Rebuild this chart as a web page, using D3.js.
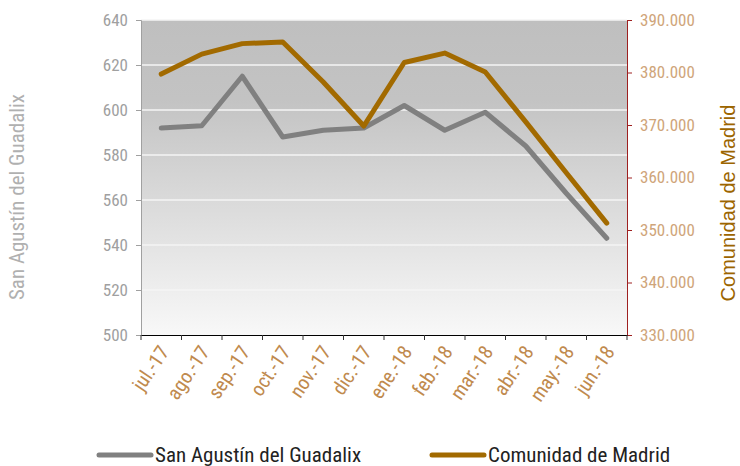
<!DOCTYPE html>
<html>
<head>
<meta charset="utf-8">
<script src="https://cdn.jsdelivr.net/npm/d3@7"></script>
<style>
  body { margin: 0; background: #fff; }
  svg { display: block; }
</style>
</head>
<body>
<div id="chart"></div>
<script>
const width = 740;
const height = 466;
const margin = { top: 20, right: 113, bottom: 131, left: 141 };

const months = ["jul.-17", "ago.-17", "sep.-17", "oct.-17", "nov.-17", "dic.-17",
  "ene.-18", "feb.-18", "mar.-18", "abr.-18", "may.-18", "jun.-18"];
const sanAgustin = [592, 593, 615, 588, 591, 592, 602, 591, 599, 584, 563, 543];
const madrid = [379700, 383500, 385500, 385800, 378200, 369800,
  381900, 383700, 380100, 370600, 360900, 351300];
const leftTicks = [500, 520, 540, 560, 580, 600, 620, 640];
const rightTicks = [330000, 340000, 350000, 360000, 370000, 380000, 390000];

const condensed = "'Liberation Sans Narrow', 'Roboto Condensed', Roboto, sans-serif";
const fmt = (d) => d3.format(",")(d).replace(/,/g, ".");

const svg = d3.select("#chart").append("svg")
  .attr("width", width)
  .attr("height", height);

const innerW = width - margin.left - margin.right;
const innerH = height - margin.top - margin.bottom;

const x = d3.scaleBand().domain(months).range([margin.left, margin.left + innerW]);
const yL = d3.scaleLinear().domain([500, 640]).range([margin.top + innerH, margin.top]);
const yR = d3.scaleLinear().domain([330000, 390000]).range([margin.top + innerH, margin.top]);

// background gradient
const grad = svg.append("defs").append("linearGradient")
  .attr("id", "bg").attr("x1", 0).attr("y1", 0).attr("x2", 0).attr("y2", 1);
grad.append("stop").attr("offset", "0%").attr("stop-color", "#bfbfbf");
grad.append("stop").attr("offset", "25%").attr("stop-color", "#c3c3c3");
grad.append("stop").attr("offset", "100%").attr("stop-color", "#f8f8f8");

svg.append("rect")
  .attr("x", margin.left).attr("y", margin.top)
  .attr("width", innerW).attr("height", innerH)
  .attr("fill", "url(#bg)");

// gridlines
svg.append("g").selectAll("line")
  .data(leftTicks.filter((d) => d > 500))
  .enter().append("line")
  .attr("x1", margin.left).attr("x2", margin.left + innerW)
  .attr("y1", (d) => yL(d)).attr("y2", (d) => yL(d))
  .attr("stroke", "#f4f4f4").attr("stroke-width", 1.5);

// left axis
const gL = svg.append("g")
  .attr("transform", `translate(${margin.left},0)`)
  .call(d3.axisLeft(yL).tickValues(leftTicks).tickSize(5).tickPadding(8));
gL.selectAll("path, line").attr("stroke", "#a0a0a0");
gL.selectAll("text").attr("fill", "#a0a0a0").style("font-size", "17px").style("font-family", condensed);

// right axis
const gR = svg.append("g")
  .attr("transform", `translate(${margin.left + innerW},0)`)
  .call(d3.axisRight(yR).tickValues(rightTicks).tickSize(5).tickPadding(8).tickFormat(fmt));
gR.selectAll("path, line").attr("stroke", "#9e2020");
gR.selectAll("text").attr("fill", "#cfa57a").style("font-size", "17px").style("font-family", condensed);

// bottom axis
const gB = svg.append("g")
  .attr("transform", `translate(0,${margin.top + innerH})`)
  .call(d3.axisBottom(x).tickSize(0).tickPadding(0));
gB.select("path").attr("stroke", "#000");
gB.selectAll(".tick text")
  .attr("fill", "#c08a4e")
  .style("font-size", "20px")
  .style("font-family", condensed)
  .attr("text-anchor", "end")
  .attr("transform", "translate(3,13) rotate(-56)")
  .attr("dy", "0.35em");
// tick marks at band edges
svg.append("g").selectAll("line")
  .data(months.concat(["end"]))
  .enter().append("line")
  .attr("x1", (d, i) => margin.left + i * x.step())
  .attr("x2", (d, i) => margin.left + i * x.step())
  .attr("y1", margin.top + innerH)
  .attr("y2", margin.top + innerH + 5)
  .attr("stroke", "#333");

// series lines
const cx = (d, i) => x(months[i]) + x.bandwidth() / 2;
svg.append("path")
  .datum(sanAgustin)
  .attr("fill", "none")
  .attr("stroke", "#808080")
  .attr("stroke-width", 5)
  .attr("stroke-linecap", "round")
  .attr("stroke-linejoin", "round")
  .attr("d", d3.line().x(cx).y((d) => yL(d)));

svg.append("path")
  .datum(madrid)
  .attr("fill", "none")
  .attr("stroke", "#a26a00")
  .attr("stroke-width", 5)
  .attr("stroke-linecap", "round")
  .attr("stroke-linejoin", "round")
  .attr("d", d3.line().x(cx).y((d) => yR(d)));

// axis titles
svg.append("text")
  .attr("transform", `translate(24,197) rotate(-90)`)
  .attr("text-anchor", "middle")
  .attr("fill", "#b0b0b0")
  .style("font-size", "21px")
  .style("font-family", condensed)
  .text("San Agustín del Guadalix");

svg.append("text")
  .attr("transform", `translate(735,203) rotate(-90)`)
  .attr("text-anchor", "middle")
  .attr("fill", "#9c6500")
  .style("font-size", "20px")
  .style("font-family", "'Liberation Sans', Arial, sans-serif")
  .text("Comunidad de Madrid");

// legend
const legend = [
  { name: "San Agustín del Guadalix", color: "#808080", x: 99 },
  { name: "Comunidad de Madrid", color: "#a26a00", x: 432 }
];
const lg = svg.append("g").selectAll("g").data(legend).enter().append("g")
  .attr("transform", (d) => `translate(${d.x},455)`);
lg.append("line")
  .attr("x1", 0).attr("x2", 52)
  .attr("stroke", (d) => d.color)
  .attr("stroke-width", 5)
  .attr("stroke-linecap", "round");
lg.append("text")
  .attr("x", 56).attr("dy", "0.35em")
  .attr("fill", "#222")
  .style("font-size", "21px")
  .style("font-family", condensed)
  .text((d) => d.name);
</script>
</body>
</html>
